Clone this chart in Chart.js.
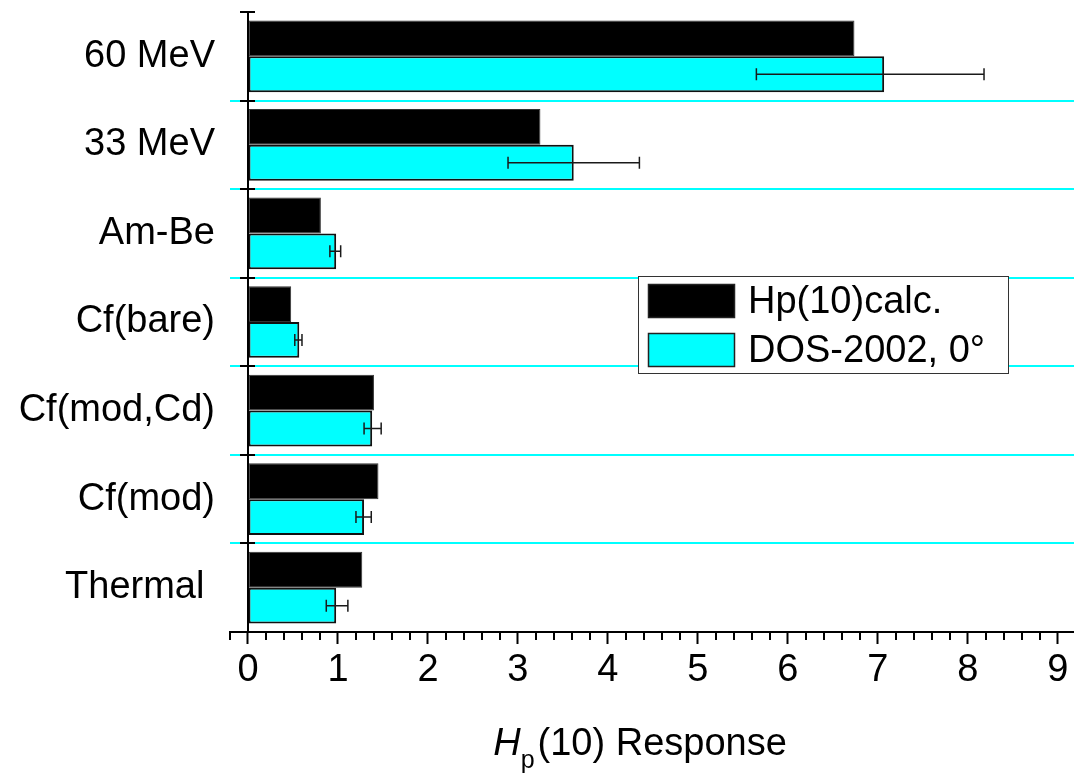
<!DOCTYPE html>
<html>
<head>
<meta charset="utf-8">
<title>Hp(10) Response</title>
<script src="https://cdn.jsdelivr.net/npm/chart.js@4.4.1/dist/chart.umd.min.js"></script>
<style>
  html, body { margin: 0; padding: 0; background: #ffffff; overflow: hidden; }
  #chart { display: block; }
</style>
</head>
<body>
<canvas id="chart" width="1074" height="775"></canvas>
<script>
// Radiation fields, listed top to bottom
const categories = ['60 MeV', '33 MeV', 'Am-Be', 'Cf(bare)', 'Cf(mod,Cd)', 'Cf(mod)', 'Thermal '];
// Calculated Hp(10)
const calcValues = [6.74, 3.25, 0.81, 0.48, 1.40, 1.45, 1.27];
// DOS-2002 reading at 0 degrees, with lower / upper error limits
const dosValues = [7.07, 3.62, 0.98, 0.57, 1.38, 1.29, 0.98];
const dosLow    = [5.65, 2.89, 0.91, 0.52, 1.29, 1.20, 0.87];
const dosHigh   = [8.18, 4.35, 1.03, 0.60, 1.48, 1.37, 1.11];
const seriesNames = ['Hp(10)calc.', 'DOS-2002, 0\u00b0'];
const xTickValues = [0, 1, 2, 3, 4, 5, 6, 7, 8, 9];

const FONT = '"Liberation Sans", Arial, sans-serif';
const FSIZE = 38;
const CYAN = '#00ffff';

// Vertical axis drawn at x = 0 with crossing ticks at category boundaries,
// minor ticks on the bottom axis, error bars, legend box and axis title.
const decorations = {
  id: 'decorations',
  afterDatasetsDraw(chart) {
    const ctx = chart.ctx;
    const xs = chart.scales.x;
    const meta = chart.getDatasetMeta(1);
    ctx.save();
    ctx.strokeStyle = '#1a1a1a';
    ctx.lineWidth = 1.5;
    meta.data.forEach((bar, i) => {
      const y = bar.y;
      const x1 = xs.getPixelForValue(dosLow[i]);
      const x2 = xs.getPixelForValue(dosHigh[i]);
      ctx.beginPath();
      ctx.moveTo(x1, y); ctx.lineTo(x2, y);
      ctx.moveTo(x1, y - 6); ctx.lineTo(x1, y + 6);
      ctx.moveTo(x2, y - 6); ctx.lineTo(x2, y + 6);
      ctx.stroke();
    });
    ctx.restore();
  },
  afterDraw(chart) {
    const ctx = chart.ctx;
    const area = chart.chartArea;
    const xs = chart.scales.x, ys = chart.scales.y;
    ctx.save();

    // y axis at value 0
    const x0 = Math.round(xs.getPixelForValue(0));
    ctx.strokeStyle = '#000';
    ctx.lineWidth = 2;
    ctx.beginPath();
    ctx.moveTo(x0, area.top);
    ctx.lineTo(x0, area.bottom);
    ctx.stroke();
    const step = ys.getPixelForValue(1) - ys.getPixelForValue(0);
    for (let i = 0; i < categories.length; i++) {
      const y = Math.round(ys.getPixelForValue(i) - step / 2);
      ctx.beginPath();
      ctx.moveTo(x0 - 8, y);
      ctx.lineTo(x0 + 7, y);
      ctx.stroke();
    }

    // minor ticks every 0.2
    for (let k = -1; k <= 50; k++) {
      if (k % 5 === 0) continue;
      const v = k / 5;
      if (v < xs.min - 1e-9 || v > xs.max) continue;
      const x = Math.round(xs.getPixelForValue(v));
      ctx.beginPath();
      ctx.moveTo(x, area.bottom);
      ctx.lineTo(x, area.bottom + 8);
      ctx.stroke();
    }

    // legend
    const bx = area.right - 436, by = area.top + 264, bw = 370, bh = 97;
    ctx.fillStyle = '#fff';
    ctx.fillRect(bx, by, bw, bh);
    ctx.strokeStyle = '#333';
    ctx.lineWidth = 1;
    ctx.strokeRect(bx + 0.5, by + 0.5, bw, bh);
    ctx.font = FSIZE + 'px ' + FONT;
    ctx.textBaseline = 'middle';
    ctx.textAlign = 'left';
    chart.data.datasets.forEach((ds, i) => {
      const sy = by + 8 + i * 49;
      ctx.fillStyle = ds.backgroundColor;
      ctx.fillRect(bx + 10, sy, 87, 34);
      ctx.strokeStyle = '#222';
      ctx.lineWidth = 1.5;
      ctx.strokeRect(bx + 10.5, sy + 0.5, 86, 33);
      ctx.fillStyle = '#000';
      ctx.fillText(ds.label, bx + 110, sy + 19);
    });

    // axis title: H (italic) with subscript p, then "(10) Response"
    const main = '(10) Response';
    ctx.textBaseline = 'alphabetic';
    ctx.font = 'italic ' + FSIZE + 'px ' + FONT;
    const wH = ctx.measureText('H').width;
    ctx.font = '25px ' + FONT;
    const wp = ctx.measureText('p').width;
    ctx.font = FSIZE + 'px ' + FONT;
    const wm = ctx.measureText(main).width;
    const total = wH + wp + 3 + wm;
    const cx = (area.left + area.right) / 2 - 12;
    let tx = cx - total / 2;
    const base = area.bottom + 123;
    ctx.fillStyle = '#000';
    ctx.font = 'italic ' + FSIZE + 'px ' + FONT;
    ctx.fillText('H', tx, base);
    tx += wH;
    ctx.font = '25px ' + FONT;
    ctx.fillText('p', tx, base + 13);
    tx += wp + 3;
    ctx.font = FSIZE + 'px ' + FONT;
    ctx.fillText(main, tx, base);
    ctx.restore();
  }
};

new Chart(document.getElementById('chart'), {
  type: 'bar',
  data: {
    labels: categories,
    datasets: [
      {
        label: seriesNames[0],
        data: calcValues,
        backgroundColor: '#000000',
        borderColor: '#333333',
        borderWidth: 1,
        borderSkipped: false
      },
      {
        label: seriesNames[1],
        data: dosValues,
        backgroundColor: CYAN,
        borderColor: '#111111',
        borderWidth: 2,
        borderSkipped: false
      }
    ]
  },
  options: {
    indexAxis: 'y',
    responsive: false,
    maintainAspectRatio: false,
    animation: false,
    devicePixelRatio: 1,
    layout: { padding: { top: 12, right: 0, left: 0, bottom: 0 } },
    datasets: { bar: { categoryPercentage: 0.81, barPercentage: 1.0 } },
    plugins: {
      legend: { display: false },
      tooltip: { enabled: false }
    },
    scales: {
      x: {
        type: 'linear',
        min: -0.2,
        max: 9.18,
        afterBuildTicks(scale) { scale.ticks = xTickValues.map(v => ({ value: v })); },
        afterFit(scale) {
          scale.height = 143;
          scale.paddingLeft = 0;
          scale.paddingRight = 0;
        },
        ticks: {
          color: '#000',
          padding: 4,
          autoSkip: false,
          maxRotation: 0,
          font: { family: FONT, size: FSIZE }
        },
        grid: {
          drawOnChartArea: false,
          drawTicks: true,
          tickLength: 12,
          tickWidth: 2,
          tickColor: '#000'
        },
        border: { display: true, color: '#000', width: 2 }
      },
      y: {
        type: 'category',
        afterFit(scale) {
          scale.width = 230;
          scale.paddingTop = 0;
          scale.paddingBottom = 0;
        },
        ticks: {
          color: '#000',
          padding: 15,
          font: { family: FONT, size: FSIZE }
        },
        grid: {
          offset: true,
          drawTicks: false,
          lineWidth: 2,
          color: (c) => (c.type === 'tick' && c.index > 0) ? CYAN : 'rgba(0,0,0,0)'
        },
        border: { display: false }
      }
    }
  },
  plugins: [decorations]
});
</script>
</body>
</html>
